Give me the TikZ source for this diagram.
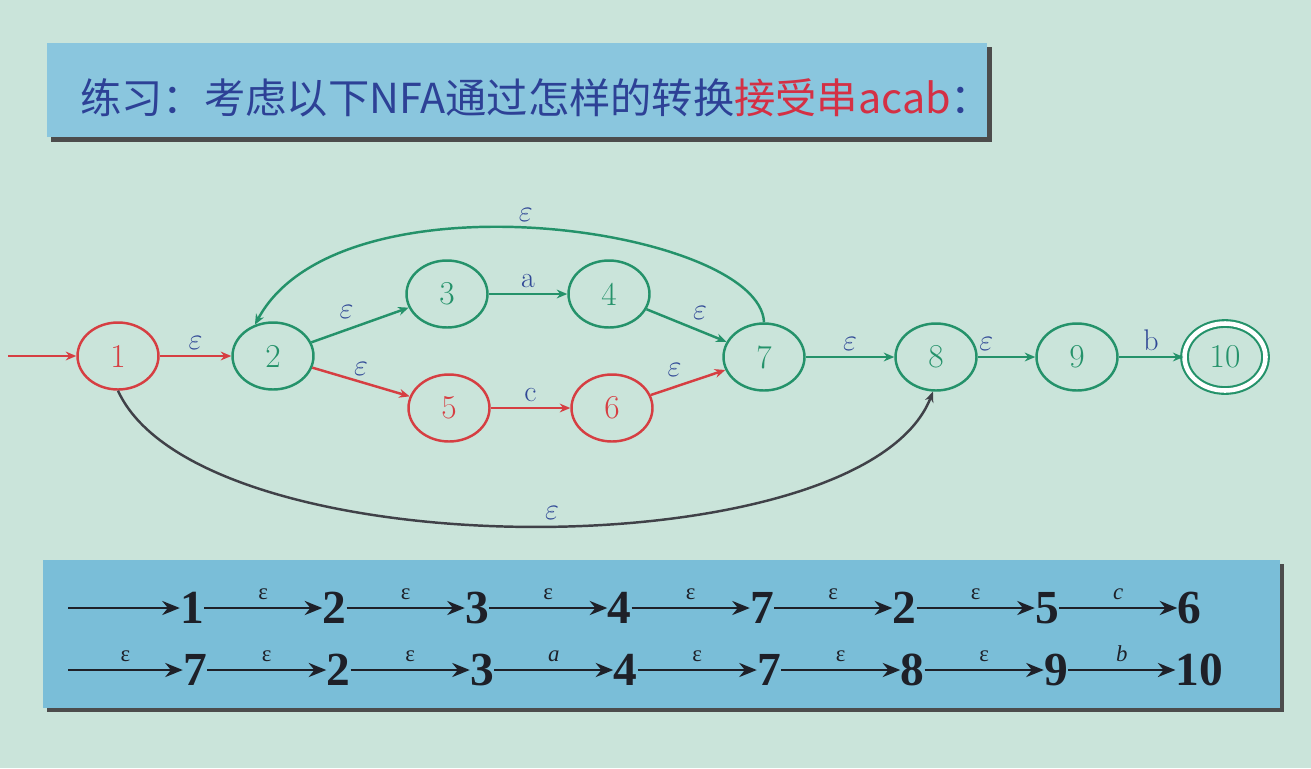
\documentclass[tikz,border=0pt]{standalone}
\usepackage{fontspec}
\newfontfamily\cjk{Noto Sans CJK SC}
\newfontfamily\seqfont{Liberation Serif}
\usetikzlibrary{arrows.meta,shapes.geometric}
\definecolor{slidebg}{RGB}{202,228,218}
\definecolor{boxblue}{RGB}{138,198,222}
\definecolor{rowblue}{RGB}{122,190,216}
\definecolor{titleblue}{RGB}{45,65,150}
\definecolor{titlered}{RGB}{212,48,68}
\definecolor{statered}{RGB}{214,62,66}
\definecolor{stategreen}{RGB}{36,146,106}
\definecolor{epsblue}{RGB}{48,72,150}
\definecolor{seqink}{RGB}{30,32,40}
\begin{document}
\begin{tikzpicture}[x=0.02cm, y=-0.02cm,
  every node/.style={inner sep=0pt},
  state/.style={ellipse, draw, line width=1.4pt, minimum width=1.62cm,
    minimum height=1.34cm, font=\fontsize{19}{19}\selectfont},
  redstate/.style={state, draw=statered, text=statered},
  grnstate/.style={state, draw=stategreen, text=stategreen},
  redarr/.style={draw=statered, line width=1.4pt, -{Stealth[length=6pt,width=5pt]}},
  grnarr/.style={draw=stategreen, line width=1.4pt, -{Stealth[length=6pt,width=5pt]}},
  elab/.style={text=epsblue, font=\fontsize{17}{17}\selectfont, inner sep=3pt},
  seqnum/.style={font=\seqfont\bfseries\fontsize{27}{27}\selectfont, text=seqink},
  seqarr/.style={draw=seqink, line width=1.5pt, -{Stealth[length=10pt,width=8pt]}},
  seqlab/.style={font=\seqfont\fontsize{13}{13}\selectfont, text=seqink, inner sep=4pt}]
\useasboundingbox (0,0) rectangle (1311,768);
\fill[slidebg] (0,0) rectangle (1311,768);
% title box
\fill[black!70] (51,47) rectangle (992,142);
\fill[boxblue] (47,43) rectangle (987,137);
\node[anchor=west, font=\cjk\fontsize{23.5}{23.5}\selectfont] (title) at (80,98)
  {\textcolor{titleblue}{练习：考虑以下NFA通过怎样的转换}\textcolor{titlered}{接受串acab}\textcolor{titleblue}{：}};
% states
\node[redstate] (n1) at (118,356) {1};
\node[grnstate] (n2) at (273,356) {2};
\node[grnstate] (n3) at (447,294) {3};
\node[grnstate] (n4) at (609,294) {4};
\node[redstate] (n5) at (449,408) {5};
\node[redstate] (n6) at (612,408) {6};
\node[grnstate] (n7) at (764,357) {7};
\node[grnstate] (n8) at (936,357) {8};
\node[grnstate] (n9) at (1077,357) {9};
\node[grnstate, double, double distance=2.6pt, line width=1.2pt] (n10) at (1225,357) {10};
\coordinate (init) at (8,356);
% transitions
\draw[redarr] (init) -- (n1);
\draw[redarr] (n1) -- node[elab, above] {$\varepsilon$} (n2);
\draw[grnarr] (n2) -- node[elab, above left] {$\varepsilon$} (n3);
\draw[grnarr] (n3) -- node[elab, above] {a} (n4);
\draw[grnarr] (n4) -- node[elab, above right] {$\varepsilon$} (n7);
\draw[redarr] (n2) -- node[elab, above] {$\varepsilon$} (n5);
\draw[redarr] (n5) -- node[elab, above] {c} (n6);
\draw[redarr] (n6) -- node[elab, above left] {$\varepsilon$} (n7);
\draw[grnarr] (n7) -- node[elab, above] {$\varepsilon$} (n8);
\draw[grnarr] (n8) -- node[elab, above, pos=0.15] {$\varepsilon$} (n9);
\draw[grnarr] (n9) -- node[elab, above] {b} (n10);
\draw[grnarr] (n7.north) .. controls +(-4,-94) and +(85,-158) .. node[elab, above, pos=0.52] {$\varepsilon$} (n2.120);
\draw[draw=seqink!85, line width=1.4pt, -{Stealth[length=6pt,width=5pt]}]
  (n1.south) .. controls +(82,180) and +(-70,180) .. node[elab, above, pos=0.52] {$\varepsilon$} (n8.265);
% accepting run
\fill[black!70] (47,564) rectangle (1284,712);
\fill[rowblue] (43,560) rectangle (1280,708);
\coordinate (ra-0) at (68,608);
\foreach \lab/\num [count=\i, evaluate=\i as \j using int(\i-1)] in
  {/1, ε/2, ε/3, ε/4, ε/7, ε/2, ε/5, \textit{c}/6}
{
  \node[seqnum] (ra-\i) at ({192+(\i-1)*142.5},608) {\num};
  \draw[seqarr] (ra-\j) -- node[seqlab, above] {\lab} (ra-\i);
}
\coordinate (rb-0) at (68,670);
\foreach \lab/\num [count=\i, evaluate=\i as \j using int(\i-1)] in
  {ε/7, ε/2, ε/3, \textit{a}/4, ε/7, ε/8, ε/9, \textit{b}/10}
{
  \node[seqnum] (rb-\i) at ({195+(\i-1)*143.5},670) {\num};
  \draw[seqarr] (rb-\j) -- node[seqlab, above] {\lab} (rb-\i);
}
\end{tikzpicture}
\end{document}
